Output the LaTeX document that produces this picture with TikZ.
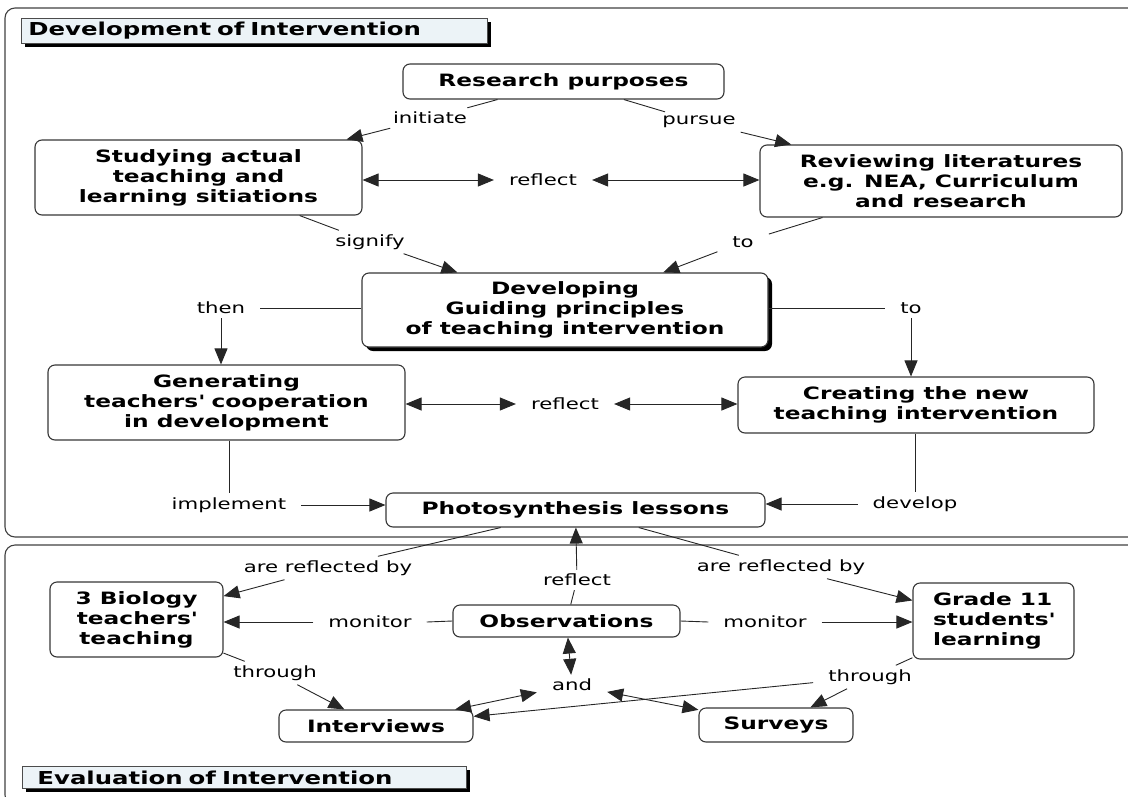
\documentclass[tikz,border=0pt]{standalone}
\usepackage{fontspec}
\setmainfont{DejaVu Sans}[FakeStretch=1.37]
\usepackage{xcolor}
\usetikzlibrary{arrows.meta,shadows}
\definecolor{ttlfill}{RGB}{236,243,247}
\definecolor{edge}{RGB}{55,55,55}

\begin{document}
\begin{tikzpicture}[x=1pt, y=-1pt,
					concept/.style = {draw=edge, line width=1.1pt, rounded corners=7pt,
						fill=white, align=center, inner sep=0pt,
						font=\bfseries\fontsize{17}{20}\selectfont},
					lbl/.style = {inner xsep=15pt, inner ysep=4pt,
						font=\fontsize{15.5}{18}\selectfont},
					ttl/.style = {draw=black!70, line width=0.9pt, fill=ttlfill, anchor=north west,
						align=left, inner ysep=0pt, font=\bfseries\fontsize{17.8}{20}\selectfont,
						drop shadow={shadow xshift=4pt, shadow yshift=-4pt, fill=black, opacity=1}},
					panel/.style = {draw=black!75, line width=1.1pt, rounded corners=10pt},
					conn/.style = {draw=black!85, line width=0.9pt},
					arr/.style = {conn, -{Triangle[length=16pt,width=13pt]}},
					twoway/.style = {conn, {Triangle[length=16pt,width=13pt]}-{Triangle[length=16pt,width=13pt]}}]
	\useasboundingbox (0,0) rectangle (1128,796);
	\draw[panel] (5,8) rectangle (1140,537);
	\draw[panel] (5,545) rectangle (1140,805);
	\node[ttl, minimum height=25, text width=452, inner xsep=7pt] (devttl) at (21,18) {Development of Intervention};
	\node[ttl, minimum height=22, text width=414, inner xsep=15pt] (evalttl) at (22,766) {Evaluation of Intervention};

	\node[concept, minimum width=321, minimum height=35] (research) at (563.5,81.5) {Research purposes};
	\node[concept, minimum width=327, minimum height=75] (study) at (198.5,177.5) {Studying actual\\teaching and\\learning sitiations};
	\node[concept, minimum width=362, minimum height=72] (review) at (941,181) {Reviewing literatures\\e.g. NEA, Curriculum\\and research};
	\node[concept, minimum width=406, minimum height=74,
		drop shadow={shadow xshift=4pt, shadow yshift=-4pt, fill=black, opacity=1}] (guide) at (565,310) {Developing\\Guiding principles\\of teaching intervention};
	\node[concept, minimum width=357, minimum height=75] (generate) at (226.5,402.5) {Generating\\teachers\textquotesingle\ cooperation\\in development};
	\node[concept, minimum width=356, minimum height=56] (create) at (916,405) {Creating the new\\teaching intervention};
	\node[concept, minimum width=379, minimum height=34] (photo) at (575.5,510) {Photosynthesis lessons};
	\node[concept, minimum width=173, minimum height=75] (biology) at (136.5,619.5) {3 Biology\\teachers\textquotesingle\\teaching};
	\node[concept, minimum width=227, minimum height=32] (obs) at (566.5,621) {Observations};
	\node[concept, minimum width=161, minimum height=76, align=left] (grade) at (993.5,621) {Grade 11\\students\textquotesingle\\learning};
	\node[concept, minimum width=194, minimum height=32] (interviews) at (376,726) {Interviews};
	\node[concept, minimum width=154, minimum height=34] (surveys) at (776,725) {Surveys};

	\node[lbl] (initiate) at (430,118) {initiate};
	\node[lbl] (pursue) at (699,122) {pursue};
	\node[lbl] (reflecta) at (543,180) {reflect};
	\node[lbl] (signify) at (370,242) {signify};
	\node[lbl] (toa) at (743,242) {to};
	\node[lbl] (then) at (221,308) {then};
	\node[lbl] (tob) at (911,308) {to};
	\node[lbl] (reflectb) at (565,404) {reflect};
	\node[lbl] (implement) at (229,505) {implement};
	\node[lbl] (developlbl) at (915,504) {develop};
	\node[lbl] (reflbya) at (328,568) {are reflected by};
	\node[lbl] (reflbyb) at (781,567) {are reflected by};
	\node[lbl] (reflectc) at (577,580) {reflect};
	\node[lbl] (monitora) at (370,622) {monitor};
	\node[lbl] (monitorb) at (765,622) {monitor};
	\node[lbl] (througha) at (275,673) {through};
	\node[lbl] (throughb) at (870,677) {through};
	\node[lbl] (and) at (572,685) {and};

	\draw[conn] (research) -- (initiate);
	\draw[arr] (initiate) -- (study);
	\draw[conn] (research) -- (pursue);
	\draw[arr] (pursue) -- (review);
	\draw[twoway] (reflecta.west) -- (study.east |- reflecta.west);
	\draw[twoway] (reflecta.east) -- (review.west |- reflecta.east);
	\draw[conn] (study) -- (signify);
	\draw[arr] (signify) -- (guide);
	\draw[conn] (review) -- (toa);
	\draw[arr] (toa) -- (guide);
	\draw[conn] (guide.west |- then) -- (then);
	\draw[arr] (then.south) -- (then.south |- generate.north);
	\draw[conn] (guide.east |- tob) -- (tob);
	\draw[arr] (tob.south) -- (tob.south |- create.north);
	\draw[twoway] (reflectb.west) -- (generate.east |- reflectb.west);
	\draw[twoway] (reflectb.east) -- (create.west |- reflectb.east);
	\draw[conn] (generate.south -| implement) -- (implement);
	\draw[arr] (implement.east) -- (photo.west |- implement.east);
	\draw[conn] (create.south -| developlbl) -- (developlbl);
	\draw[arr] (developlbl.west) -- (photo.east |- developlbl.west);

	\draw[conn] (photo) -- (reflbya);
	\draw[arr] (reflbya) -- (biology);
	\draw[conn] (photo) -- (reflbyb);
	\draw[arr] (reflbyb) -- (grade);
	\draw[conn] (obs) -- (reflectc);
	\draw[arr] (reflectc) -- (photo);
	\draw[conn] (obs.west) -- (monitora.east);
	\draw[arr] (monitora.west) -- (biology.east |- monitora.west);
	\draw[conn] (obs.east) -- (monitorb.west);
	\draw[arr] (monitorb.east) -- (grade.west |- monitorb.east);
	\draw[conn] (biology) -- (througha);
	\draw[arr] (througha) -- (interviews);
	\draw[conn] (grade) -- (throughb);
	\draw[arr] (throughb) -- (surveys);
	\draw[arr] (throughb) -- (interviews);
	\draw[twoway] (obs) -- (and);
	\draw[twoway] (and) -- (interviews);
	\draw[twoway] (and) -- (surveys);
\end{tikzpicture}
\end{document}
